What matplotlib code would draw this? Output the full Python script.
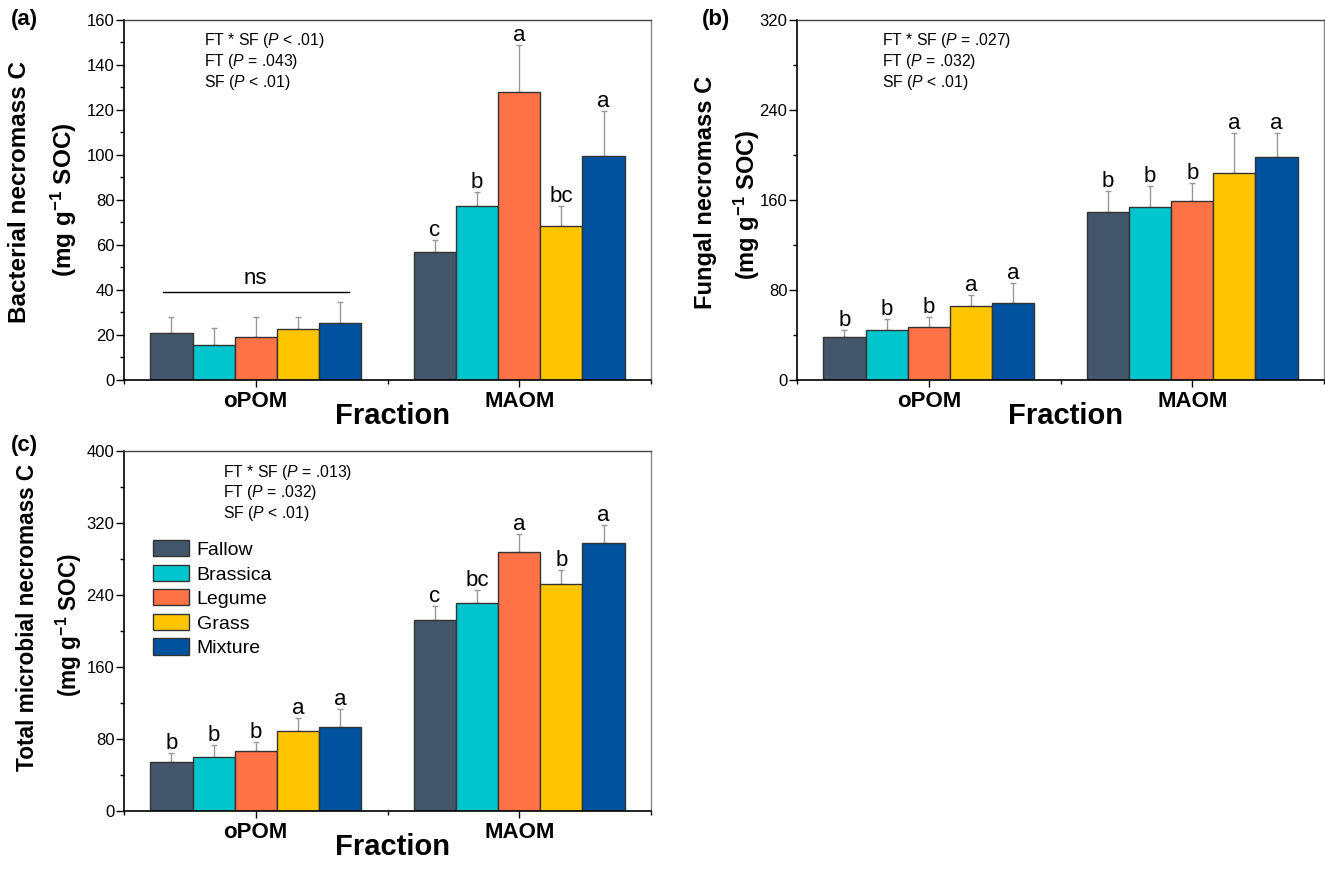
import numpy as np
import matplotlib
matplotlib.use("Agg")
import matplotlib.pyplot as plt
from matplotlib.ticker import MultipleLocator, FixedLocator

plt.rcParams['font.family'] = ['Liberation Sans', 'DejaVu Sans']
plt.rcParams['mathtext.fontset'] = 'custom'
plt.rcParams['mathtext.rm'] = 'Liberation Sans'
plt.rcParams['mathtext.it'] = 'Liberation Sans:italic'
plt.rcParams['mathtext.bf'] = 'Liberation Sans:bold'

# ── data ──────────────────────────────────────────────
fractions = ["oPOM", "MAOM"]
treatments = ["Fallow", "Brassica", "Legume", "Grass", "Mixture"]
colors = ["#44566a", "#00c5cc", "#ff7247", "#ffc600", "#00529f"]

# (a) bacterial necromass C
bact_opom = [20.8, 15.6, 19.1, 22.5, 25.2]
bact_opom_err = [7.1, 7.4, 8.8, 5.4, 9.3]
bact_maom = [56.7, 77.2, 128.1, 68.3, 99.7]
bact_maom_err = [5.5, 6.2, 21.0, 8.9, 19.9]
bact_letters_maom = ["c", "b", "a", "bc", "a"]

# (b) fungal necromass C
fung_opom = [37.9, 44.4, 47.1, 66.1, 68.1]
fung_opom_err = [6.5, 9.8, 9.2, 9.2, 18.4]
fung_maom = [149.3, 153.5, 159.4, 183.7, 198.2]
fung_maom_err = [18.4, 18.6, 15.4, 36.2, 21.6]
fung_letters_opom = ["b", "b", "b", "a", "a"]
fung_letters_maom = ["b", "b", "b", "a", "a"]

# (c) total microbial necromass C
tot_opom = [54.1, 60.4, 67.0, 88.9, 93.3]
tot_opom_err = [10.3, 12.6, 9.7, 14.8, 19.7]
tot_maom = [211.9, 230.7, 287.4, 251.9, 298.1]
tot_maom_err = [15.5, 14.5, 20.0, 16.2, 19.3]
tot_letters_opom = ["b", "b", "b", "a", "a"]
tot_letters_maom = ["c", "bc", "a", "b", "a"]

stats_a = ["FT * SF ($\\mathit{P}$ < .01)", "FT ($\\mathit{P}$ = .043)", "SF ($\\mathit{P}$ < .01)"]
stats_b = ["FT * SF ($\\mathit{P}$ = .027)", "FT ($\\mathit{P}$ = .032)", "SF ($\\mathit{P}$ < .01)"]
stats_c = ["FT * SF ($\\mathit{P}$ = .013)", "FT ($\\mathit{P}$ = .032)", "SF ($\\mathit{P}$ < .01)"]

W, H = 1325, 871
fig = plt.figure(figsize=(W / 100, H / 100), dpi=100)


def axes_px(left, top, right, bottom):
    return fig.add_axes([left / W, 1 - bottom / H, (right - left) / W, (bottom - top) / H])


ax_a = axes_px(124, 20, 651, 380)
ax_b = axes_px(797, 20, 1324, 380)
ax_c = axes_px(124, 451, 651, 811)

bw = 0.16
x_groups = np.array([1.0, 2.0])
offsets = (np.arange(5) - 2) * bw


def draw_panel(ax, vals, errs, letters, ymax, ymajor, ylab1, ylab2, stats, lab_x, lab_y,
               lab_size, stats_x, tag, tag_px):
    for i in range(5):
        xs = x_groups + offsets[i]
        hs = [vals[0][i], vals[1][i]]
        es = [errs[0][i], errs[1][i]]
        ax.bar(xs, hs, width=bw, color=colors[i], edgecolor="#333333", linewidth=1,
               label=treatments[i], zorder=2)
        ax.errorbar(xs, hs, yerr=[[0, 0], es], fmt="none", ecolor="#999999",
                    elinewidth=1, capsize=2.5, capthick=1, zorder=1)
        for g in range(2):
            if letters[g] is not None:
                ax.annotate(letters[g][i], (xs[g], hs[g] + es[g]), xytext=(0, 4),
                            textcoords="offset pixels", ha="center", va="baseline",
                            fontsize=16)
    ax.set_xlim(0.5, 2.5)
    ax.set_ylim(0, ymax)
    ax.yaxis.set_major_locator(MultipleLocator(ymajor))
    ax.yaxis.set_minor_locator(MultipleLocator(ymajor / 2))
    ax.set_xticks(x_groups)
    ax.set_xticklabels(fractions, fontsize=16, fontweight="bold")
    ax.xaxis.set_minor_locator(FixedLocator([0.5, 1.5, 2.5]))
    ax.tick_params(axis="y", which="major", direction="out", length=6, width=1,
                   labelsize=12, pad=1)
    ax.tick_params(axis="y", which="minor", direction="out", length=3, width=1)
    ax.tick_params(axis="x", which="major", direction="out", length=5, width=1, pad=3)
    ax.tick_params(axis="x", which="minor", direction="out", length=3, width=1)
    for s in ["left", "bottom"]:
        ax.spines[s].set_linewidth(1.2)
        ax.spines[s].set_color("black")
    ax.spines["top"].set_color("#444444")
    ax.spines["right"].set_color("#888888")
    ax.spines["top"].set_linewidth(1)
    ax.spines["right"].set_linewidth(1)

    ax.text(0.509, -0.1, "Fraction", transform=ax.transAxes, ha="center", va="center",
            fontsize=21, fontweight="bold")
    ax.text(lab_x[0], lab_y[0], ylab1, transform=ax.transAxes, rotation=90,
            ha="center", va="center", fontsize=lab_size, fontweight="bold")
    ax.text(lab_x[1], lab_y[1], ylab2, transform=ax.transAxes, rotation=90,
            ha="center", va="center", fontsize=lab_size, fontweight="bold")
    for k, line in enumerate(stats):
        ax.text(stats_x, 1 - (21 + 20.5 * k) / 360, line, transform=ax.transAxes,
                ha="left", va="center", fontsize=11.3)
    fig.text(tag_px[0] / W, 1 - tag_px[1] / H, tag, ha="left", va="center",
             fontsize=16, fontweight="bold")


draw_panel(ax_a, [bact_opom, bact_maom], [bact_opom_err, bact_maom_err],
           [None, bact_letters_maom], 160, 20,
           "Bacterial necromass C", "(mg g$^{\\mathbf{-1}}$ SOC)", stats_a,
           (-0.199, -0.114), (0.522, 0.5), 17.5, 0.152, "(a)", (11, 19))
draw_panel(ax_b, [fung_opom, fung_maom], [fung_opom_err, fung_maom_err],
           [fung_letters_opom, fung_letters_maom], 320, 80,
           "Fungal necromass C", "(mg g$^{\\mathbf{-1}}$ SOC)", stats_b,
           (-0.173, -0.096), (0.522, 0.486), 17, 0.161, "(b)", (702, 19))
draw_panel(ax_c, [tot_opom, tot_maom], [tot_opom_err, tot_maom_err],
           [tot_letters_opom, tot_letters_maom], 400, 80,
           "Total microbial necromass C", "(mg g$^{\\mathbf{-1}}$ SOC)", stats_c,
           (-0.184, -0.104), (0.539, 0.517), 16.3, 0.188, "(c)", (11, 445))

# ns bar in panel (a)
ax_a.plot([0.648, 1.352], [39.1, 39.1], color="black", linewidth=1)
ax_a.text(1.0, 42.5, "ns", ha="center", va="baseline", fontsize=16)

# legend in panel (c)
ax_c.legend(loc="upper left", bbox_to_anchor=(0.055, 0.752), frameon=False,
            fontsize=14, handlelength=1.87, handleheight=0.89, handletextpad=0.37,
            labelspacing=0.3, borderpad=0, borderaxespad=0)

fig.savefig("out.png", dpi=100)
